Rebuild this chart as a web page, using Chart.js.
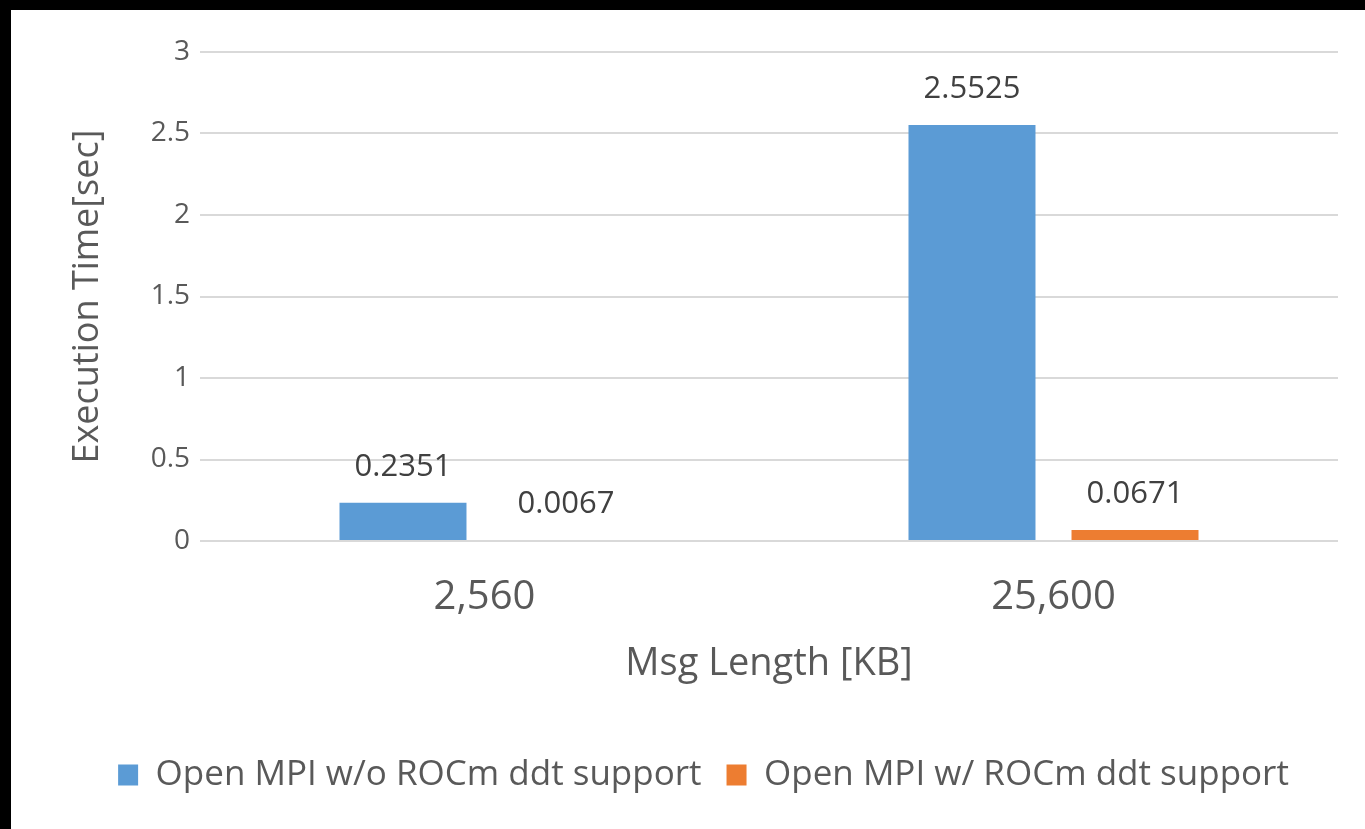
<!DOCTYPE html>
<html>
<head>
<meta charset="utf-8">
<script src="https://cdn.jsdelivr.net/npm/chart.js@4/dist/chart.umd.min.js"></script>
<style>
  html, body { margin: 0; padding: 0; background: #000; }
  #frame { position: absolute; left: 11px; top: 10px; width: 1354px; height: 819px; background: #fff; }
  canvas { display: block; }
</style>
</head>
<body>
<div id="frame"><canvas id="chart" width="1354" height="819"></canvas></div>
<script>
// Message sizes (KB) on the category axis
const categories = ['2,560', '25,600'];
// Execution time in seconds for each build
const seriesNames = ['Open MPI w/o ROCm ddt support', 'Open MPI w/ ROCm ddt support'];
const withoutDdt = [0.2351, 2.5525];
const withDdt = [0.0067, 0.0671];
const yTicks = [0, 0.5, 1, 1.5, 2, 2.5, 3];

const FONT = "'Open Sans', 'DejaVu Sans', sans-serif";
const TEXT = '#595959';

// Writes each bar's value above it
const valueLabels = {
  id: 'valueLabels',
  afterDatasetsDraw(chart) {
    const ctx = chart.ctx;
    ctx.save();
    ctx.font = '31px ' + FONT;
    ctx.fillStyle = '#404040';
    ctx.textAlign = 'center';
    ctx.textBaseline = 'alphabetic';
    chart.data.datasets.forEach((ds, i) => {
      chart.getDatasetMeta(i).data.forEach((bar, j) => {
        ctx.fillText(String(ds.data[j]), bar.x, bar.y - 27);
      });
    });
    ctx.restore();
  }
};

new Chart(document.getElementById('chart'), {
  type: 'bar',
  data: {
    labels: categories,
    datasets: [
      { label: seriesNames[0], data: withoutDdt, backgroundColor: '#5B9BD5',
        categoryPercentage: 0.573, barPercentage: 0.779 },
      { label: seriesNames[1], data: withDdt, backgroundColor: '#ED7D31',
        categoryPercentage: 0.573, barPercentage: 0.779 }
    ]
  },
  options: {
    responsive: false,
    animation: false,
    devicePixelRatio: 1,
    layout: { padding: { top: 42, right: 0, left: 31, bottom: 26.5 } },
    plugins: {
      legend: {
        position: 'bottom',
        labels: {
          boxWidth: 20, boxHeight: 21, padding: 25,
          color: TEXT, font: { family: FONT, size: 35 }
        }
      },
      tooltip: { enabled: false }
    },
    scales: {
      x: {
        grid: { display: false, drawTicks: false },
        border: { display: false },
        ticks: { color: TEXT, font: { family: FONT, size: 40 }, padding: 33 },
        title: { display: true, text: 'Msg Length [KB]', color: TEXT,
                 font: { family: FONT, size: 38 }, padding: { top: 0, bottom: 45.7 } },
        afterFit(s) { s.height = 191.5; }
      },
      y: {
        min: 0, max: 3,
        afterBuildTicks(s) { s.ticks = yTicks.map(v => ({ value: v })); },
        grid: { color: '#D9D9D9', lineWidth: 2, drawTicks: false },
        border: { display: false },
        ticks: { color: TEXT, font: { family: FONT, size: 28 }, padding: 10,
                 callback: v => String(v) },
        title: { display: true, text: 'Execution Time[sec]', color: TEXT,
                 font: { family: FONT, size: 36 }, padding: { top: 24, bottom: 0 } },
        afterFit(s) { s.width = 158; }
      },
      // empty right-hand margin strip beside the plot
      yRight: {
        position: 'right',
        min: 0, max: 3,
        grid: { display: false, drawTicks: false },
        border: { display: false },
        ticks: { display: false },
        afterFit(s) { s.width = 27; }
      }
    }
  },
  plugins: [valueLabels]
});
</script>
</body>
</html>
